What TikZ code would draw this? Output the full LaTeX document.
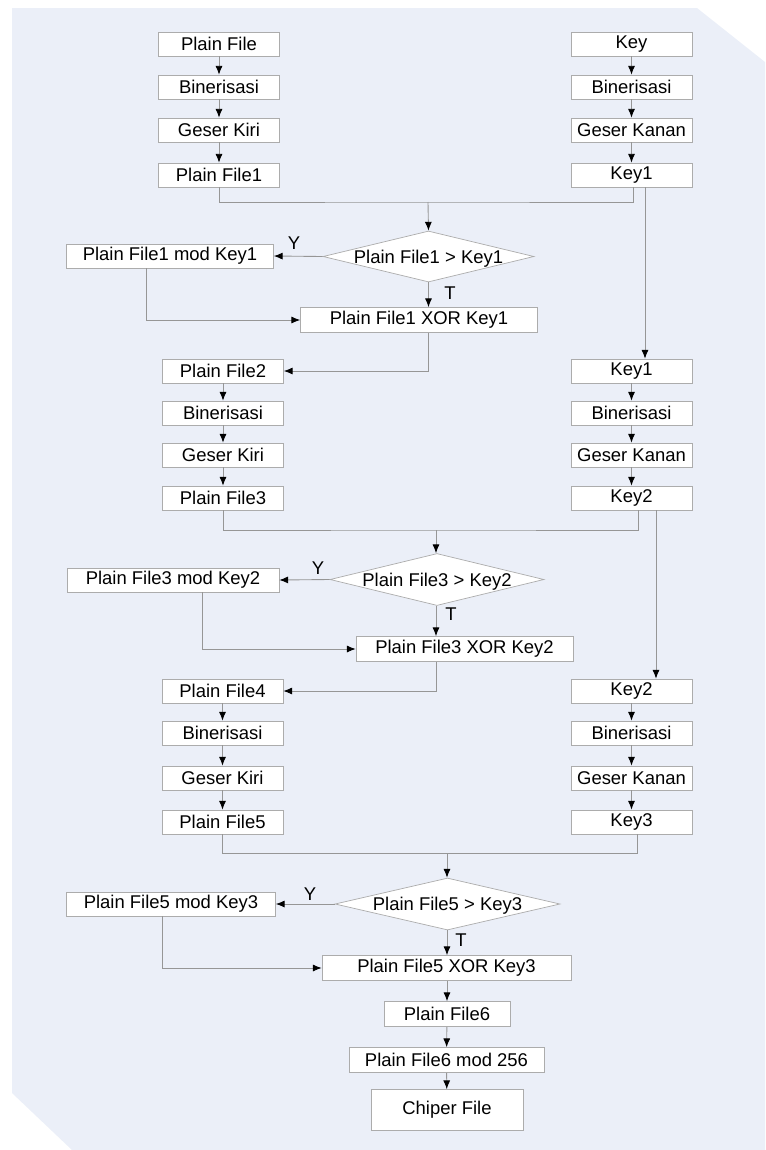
\documentclass[tikz,border=0pt]{standalone}
\usepackage{fontspec}
\setmainfont{Liberation Sans}
\usetikzlibrary{shapes.geometric,arrows.meta}
\definecolor{bgblue}{RGB}{235,239,248}
\definecolor{boxline}{RGB}{172,172,172}
\definecolor{flowline}{RGB}{150,150,150}
\tikzset{
	box/.style={draw=boxline, fill=white, minimum height=0.48cm, inner sep=0pt, font=\fontsize{10.5}{12}\selectfont},
	choice/.style={diamond, aspect=4.2, draw=boxline, fill=white, inner sep=0pt, text height=7.5pt, text depth=0pt, font=\fontsize{10.5}{12}\selectfont},
	flow/.style={draw=flowline, line width=0.5pt},
	arr/.style={flow, -{Latex[length=5pt,width=4pt,color=black]}},
	lbl/.style={inner sep=0pt, font=\fontsize{10.5}{12}\selectfont}
}

\begin{document}
\begin{tikzpicture}[x=0.02cm, y=-0.02cm]
		%%%%% START %%%%%
		\useasboundingbox (0,0) rectangle (765,1150);
		\fill[bgblue] (12,8) -- (697,8) -- (765,62) -- (765,1150) -- (72,1150) -- (12,1093) -- cycle;
		
		% plain file side
		\node[box, minimum width=2.42cm] (pf0) at (219,44) {Plain File};
		\node[box, minimum width=2.42cm] (bin1) at (219,87) {Binerisasi};
		\node[box, minimum width=2.42cm] (gki1) at (219,130) {Geser Kiri};
		\node[box, minimum width=2.42cm] (pf1) at (219,175) {Plain File1};
		
		% key side
		\node[box, minimum width=2.42cm] (key0) at (631.5,44) {Key};
		\node[box, minimum width=2.42cm] (kbin1) at (631.5,87) {Binerisasi};
		\node[box, minimum width=2.42cm] (gka1) at (631.5,130) {Geser Kanan};
		\node[box, minimum width=2.42cm] (key1) at (631.5,175) {Key1};
		
		\draw[arr] (pf0) -- (bin1);
		\draw[arr] (bin1) -- (gki1);
		\draw[arr] (gki1) -- (pf1);
		\draw[arr] (key0) -- (kbin1);
		\draw[arr] (kbin1) -- (gka1);
		\draw[arr] (gka1) -- (key1);
		
		% round 1
		\coordinate (j1) at (428,202);
		\node[choice, minimum width=4.22cm, minimum height=1.02cm] (d1) at (428.5,256.5) {Plain File1 > Key1};
		\node[box, minimum width=4.14cm] (mod1) at (170,256) {Plain File1 mod Key1};
		\node[box, minimum width=4.74cm, minimum height=0.5cm] (xor1) at (419,320) {Plain File1 XOR Key1};
		\node[lbl] (y1) at (294,243) {Y};
		\node[lbl] (t1) at (450,293) {T};
		
		\draw[flow] (pf1.south) |- (j1) -| ([xshift=0.03cm]key1.south);
		\draw[arr] (j1) -- (d1.north);
		\draw[arr] (d1.west) -- (mod1.east);
		\draw[arr] (d1.south) -- (d1.south |- xor1.north);
		\draw[arr] ([xshift=-0.48cm]mod1.south) |- (xor1.west);
		
		\node[box, minimum width=2.42cm] (pf2) at (223,371) {Plain File2};
		\node[box, minimum width=2.42cm] (bin2) at (223,413) {Binerisasi};
		\node[box, minimum width=2.42cm] (gki2) at (223,455) {Geser Kiri};
		\node[box, minimum width=2.42cm] (pf3) at (223,498) {Plain File3};
		
		\node[box, minimum width=2.42cm] (key1b) at (631.5,371) {Key1};
		\node[box, minimum width=2.42cm] (kbin2) at (631.5,413) {Binerisasi};
		\node[box, minimum width=2.42cm] (gka2) at (631.5,455) {Geser Kanan};
		\node[box, minimum width=2.42cm] (key2) at (631.5,498) {Key2};
		
		\draw[arr] (xor1.south -| d1.south) |- (pf2.east);
		\draw[arr] ([xshift=0.27cm]key1.south) -- ([xshift=0.27cm]key1b.north);
		\draw[arr] (pf2) -- (bin2);
		\draw[arr] (bin2) -- (gki2);
		\draw[arr] (gki2) -- (pf3);
		\draw[arr] (key1b) -- (kbin2);
		\draw[arr] (kbin2) -- (gka2);
		\draw[arr] (gka2) -- (key2);
		
		% round 2
		\coordinate (j2) at (436,530);
		\node[choice, minimum width=4.28cm, minimum height=1.04cm] (d2) at (437,579.5) {Plain File3 > Key2};
		\node[box, minimum width=4.24cm] (mod2) at (173,580) {Plain File3 mod Key2};
		\node[box, minimum width=4.34cm, minimum height=0.5cm] (xor2) at (464.5,649) {Plain File3 XOR Key2};
		\node[lbl] (y2) at (318,568) {Y};
		\node[lbl] (t2) at (451,614) {T};
		
		\draw[flow] (pf3.south) |- (j2) -| ([xshift=0.13cm]key2.south);
		\draw[arr] (j2) -- (j2 |- d2.north);
		\draw[arr] (d2.west) -- (mod2.east);
		\draw[arr] (j2 |- d2.south) -- (j2 |- xor2.north);
		\draw[arr] ([xshift=0.58cm]mod2.south) |- (xor2.west);
		
		\node[box, minimum width=2.42cm] (pf4) at (222.5,691) {Plain File4};
		\node[box, minimum width=2.42cm] (bin3) at (222.5,733) {Binerisasi};
		\node[box, minimum width=2.42cm] (gki3) at (222.5,778) {Geser Kiri};
		\node[box, minimum width=2.42cm] (pf5) at (222.5,822) {Plain File5};
		
		\node[box, minimum width=2.42cm] (key2b) at (631.5,691) {Key2};
		\node[box, minimum width=2.42cm] (kbin3) at (631.5,733) {Binerisasi};
		\node[box, minimum width=2.42cm] (gka3) at (631.5,778) {Geser Kanan};
		\node[box, minimum width=2.42cm] (key3) at (631.5,822) {Key3};
		
		\draw[arr] (j2 |- xor2.south) |- (pf4.east);
		\draw[arr] ([xshift=0.49cm]key2.south) -- ([xshift=0.49cm]key2b.north);
		\draw[arr] (pf4) -- (bin3);
		\draw[arr] (bin3) -- (gki3);
		\draw[arr] (gki3) -- (pf5);
		\draw[arr] (key2b) -- (kbin3);
		\draw[arr] (kbin3) -- (gka3);
		\draw[arr] (gka3) -- (key3);
		
		% round 3
		\coordinate (j3) at (447,853);
		\node[choice, minimum width=4.5cm, minimum height=1.04cm] (d3) at (447.5,904) {Plain File5 > Key3};
		\node[box, minimum width=4.18cm] (mod3) at (171,904) {Plain File5 mod Key3};
		\node[box, minimum width=4.98cm, minimum height=0.5cm] (xor3) at (446.5,968) {Plain File5 XOR Key3};
		\node[lbl] (y3) at (310,894) {Y};
		\node[lbl] (t3) at (461,940) {T};
		
		\draw[flow] (pf5.south) |- (j3) -| ([xshift=0.11cm]key3.south);
		\draw[arr] (j3) -- (j3 |- d3.north);
		\draw[arr] (d3.west) -- (mod3.east);
		\draw[arr] (j3 |- d3.south) -- (j3 |- xor3.north);
		\draw[arr] ([xshift=-0.18cm]mod3.south) |- (xor3.west);
		
		% output
		\node[box, minimum width=2.52cm, minimum height=0.5cm] (pf6) at (447,1014) {Plain File6};
		\node[box, minimum width=3.9cm, minimum height=0.5cm] (m256) at (446.5,1060) {Plain File6 mod 256};
		\node[box, minimum width=3.04cm, minimum height=0.82cm] (cf) at (447,1110) {Chiper File};
		
		\draw[arr] (j3 |- xor3.south) -- (j3 |- pf6.north);
		\draw[arr] (pf6) -- (m256);
		\draw[arr] (m256) -- (cf);
		%%%%% END %%%%%
\end{tikzpicture}
\end{document}
